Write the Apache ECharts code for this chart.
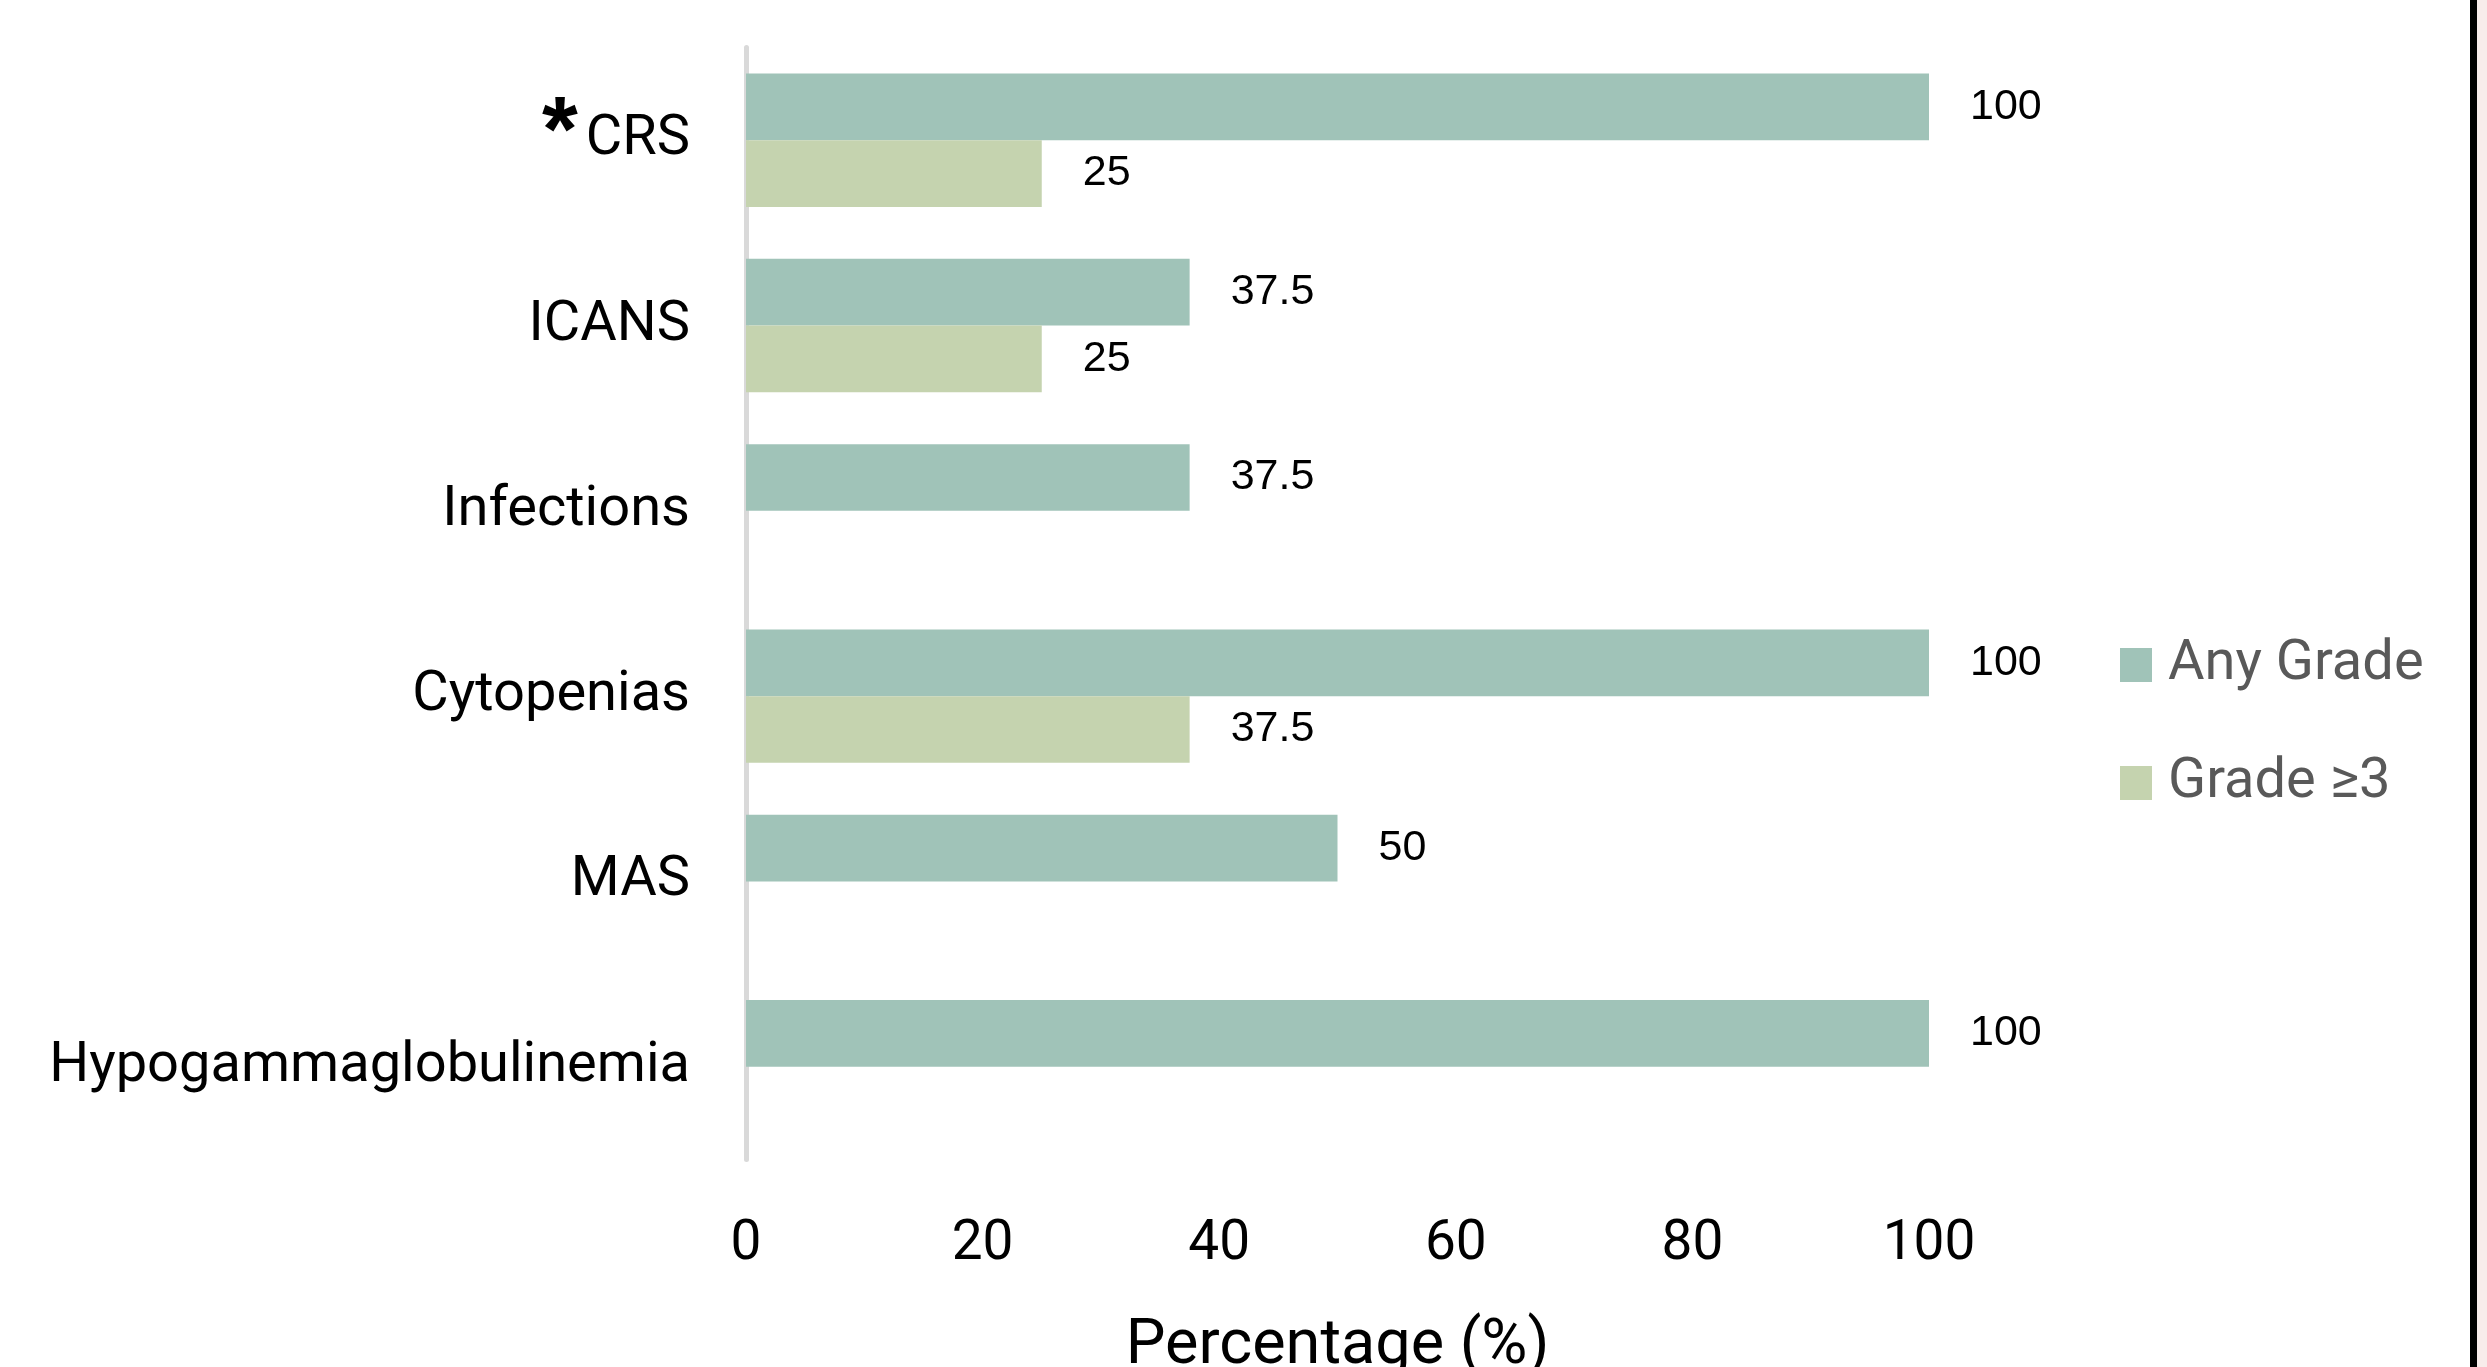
<!DOCTYPE html>
<html>
<head>
<meta charset="utf-8">
<script src="https://cdn.jsdelivr.net/npm/echarts@6/dist/echarts.min.js"></script>
<style>
html, body { margin: 0; padding: 0; background: #ffffff; }
#chart { width: 2487px; height: 1367px; }
</style>
</head>
<body>
<div id="chart"></div>
<script>
const categories = ['CRS', 'ICANS', 'Infections', 'Cytopenias', 'MAS', 'Hypogammaglobulinemia'];
const anyGrade = [100, 37.5, 37.5, 100, 50, 100];
const grade3Plus = [25, 25, null, 37.5, null, null];
const seriesNames = ['Any Grade', 'Grade \u22653'];
const xTicks = [0, 20, 40, 60, 80, 100];
const axisTitle = 'Percentage (%)';

const chart = echarts.init(document.getElementById('chart'), null, { renderer: 'canvas' });

const labelFont = 'Roboto';
const valueLabel = {
  show: true,
  position: 'right',
  distance: 41,
  color: '#000000',
  fontFamily: 'Liberation Sans',
  fontSize: 43,
  formatter: p => (p.value === null || p.value === undefined ? '' : String(p.value))
};

chart.setOption({
  backgroundColor: '#ffffff',
  animation: false,
  grid: { left: 746, right: 558, top: 47.6, bottom: 207.6, containLabel: false, outerBoundsMode: 'none' },
  legend: {
    orient: 'vertical',
    left: 2115,
    top: 632,
    itemWidth: 32,
    itemHeight: 34,
    itemGap: 62,
    icon: 'rect',
    data: seriesNames,
    textStyle: { fontFamily: labelFont, fontSize: 56, color: '#595959', padding: [0, 0, 0, 11] }
  },
  xAxis: {
    type: 'value',
    min: xTicks[0],
    max: xTicks[xTicks.length - 1],
    interval: xTicks[1] - xTicks[0],
    axisLine: { show: false },
    axisTick: { show: false },
    splitLine: { show: false },
    axisLabel: { fontFamily: labelFont, fontSize: 55, color: '#000000', margin: 58 },
    name: axisTitle,
    nameLocation: 'middle',
    nameGap: 156,
    nameTextStyle: { fontFamily: labelFont, fontSize: 63, color: '#000000' }
  },
  yAxis: {
    type: 'category',
    data: categories,
    inverse: true,
    axisLine: { show: true, lineStyle: { color: '#d9d9d9', width: 5 } },
    axisTick: { show: false },
    splitLine: { show: false },
    axisLabel: {
      margin: 56,
      fontFamily: labelFont,
      fontSize: 56,
      color: '#000000',
      formatter: v => (v === 'CRS' ? '{star|*}{base|' + v + '}' : v),
      rich: {
        star: { fontFamily: 'Liberation Sans', fontWeight: 'bold', fontSize: 92, color: '#000000', padding: [0, 8, 10, 0] },
        base: { fontFamily: labelFont, fontSize: 56, color: '#000000' }
      }
    }
  },
  series: [
    {
      name: seriesNames[0],
      type: 'bar',
      data: anyGrade,
      barGap: '0%',
      barCategoryGap: '28%',
      itemStyle: { color: '#a0c3b8' },
      label: valueLabel
    },
    {
      name: seriesNames[1],
      type: 'bar',
      data: grade3Plus,
      barGap: '0%',
      barCategoryGap: '28%',
      itemStyle: { color: '#c5d3af' },
      label: valueLabel
    }
  ],
  graphic: [
    { type: 'rect', shape: { x: 2470, y: 0, width: 7, height: 1367 }, style: { fill: '#000000' }, silent: true },
    { type: 'rect', shape: { x: 2477, y: 0, width: 10, height: 1367 }, style: { fill: '#f8eceb' }, silent: true }
  ]
});
</script>
</body>
</html>
